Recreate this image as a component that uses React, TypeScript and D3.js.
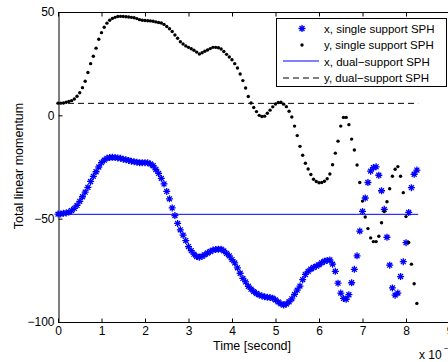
import { useEffect, useRef } from 'react';
import * as d3 from 'd3';

// simulation samples, uniform time step (x-axis shown as "x 10^-3")
const TIME_STEP = 0.0625;

// x-momentum, single support SPH (blue stars)
const X_SINGLE: number[] = [
  -47.8, -47.7, -47.4, -47.2, -46.8, -46.1, -45.0, -43.6, -41.6, -39.4,
  -37.2, -34.9, -32.0, -29.5, -27.3, -25.0, -22.9, -21.7, -20.8, -20.4,
  -20.3, -20.4, -20.6, -20.8, -21.2, -21.5, -21.8, -22.2, -22.4, -22.7,
  -22.9, -22.9, -22.9, -23.0, -23.5, -24.4, -26.2, -28.1, -30.5, -33.2,
  -36.8, -40.4, -44.8, -48.5, -52.3, -55.4, -58.0, -60.6, -63.5, -65.5,
  -67.2, -68.3, -68.7, -68.2, -67.4, -66.6, -65.9, -65.2, -64.9, -64.8,
  -64.8, -65.6, -66.8, -68.0, -69.8, -71.4, -73.8, -76.4, -78.9, -80.6,
  -82.7, -84.1, -85.3, -86.2, -86.9, -87.4, -87.8, -88.0, -88.2, -88.5,
  -89.3, -90.3, -91.2, -91.8, -91.3, -90.2, -88.8, -86.6, -84.6, -82.6,
  -79.5, -77.0, -75.5, -74.4, -73.6, -73.0, -72.3, -71.3, -70.6, -70.2,
  -70.0, -72.0, -75.5, -81.2, -86.0, -88.6, -89.0, -86.8, -81.0, -74.5,
  -68.0, -56.0, -46.5, -40.0, -32.5, -27.0, -25.3, -24.9, -29.0, -36.5,
  -45.5, -59.0, -72.5, -83.5, -87.0, -86.0, -78.0, -70.8, -61.6, -47.0,
  -35.0, -28.5, -26.5,
];

// y-momentum, single support SPH (black dots)
const Y_SINGLE: number[] = [
  5.9, 5.9, 6.0, 6.3, 6.7, 7.1, 7.9, 9.2, 10.9, 13.4,
  16.5, 20.7, 25.0, 28.6, 32.5, 36.8, 40.0, 42.6, 44.6, 46.0,
  46.9, 47.4, 47.8, 47.9, 47.8, 47.7, 47.6, 47.4, 47.2, 46.8,
  46.3, 46.0, 45.9, 45.8, 45.7, 45.5, 45.2, 44.9, 44.7, 44.0,
  43.0, 41.9, 40.6, 38.9, 37.3, 35.6, 34.5, 33.6, 32.9, 32.2,
  31.5, 30.6, 29.7, 30.3, 31.0, 31.6, 32.3, 32.9, 32.9, 32.7,
  32.1, 30.9, 29.5, 28.2, 26.9, 25.0, 22.9, 20.0, 16.8, 13.2,
  9.1, 6.0, 3.8, 1.8, 0.0, -0.6, -0.4, 1.0, 2.5, 4.1,
  5.5, 6.2, 6.3, 5.4, 4.2, 2.0, -0.8, -5.2, -9.8, -15.0,
  -19.3, -23.2, -26.0, -28.6, -30.9, -32.0, -32.6, -32.5, -31.9, -30.7,
  -28.4, -23.9, -18.3, -12.5, -5.2, -1.0, -1.0, -4.5, -11.5, -16.8,
  -24.0, -32.5, -41.5, -49.2, -54.8, -59.3, -61.1, -61.1, -58.5, -52.0,
  -46.5, -41.8, -35.5, -29.5, -26.1, -24.8, -29.5, -37.4, -49.0, -61.5,
  -72.0, -81.5, -91.0,
];

// dual-support SPH reference levels (constant over the run)
const X_DUAL = -47.9;
const Y_DUAL = 5.8;
const DUAL_T_END = 8.28;

const X_TICKS = [0, 1, 2, 3, 4, 5, 6, 7, 8, 9];
const Y_TICKS = [-100, -50, 0, 50];

const LEGEND_LABELS = [
  'x, single support SPH',
  'y, single support SPH',
  'x, dual\u2212support SPH',
  'y, dual\u2212support SPH',
];

const W = 448;
const H = 362;
const FONT = '"Liberation Sans", Arial, Helvetica, sans-serif';

export default function App() {
  const svgRef = useRef<SVGSVGElement>(null);

  useEffect(() => {
    if (!svgRef.current) return;
    const svg = d3.select(svgRef.current);
    svg.selectAll('*').remove();

    const left = 58;
    const top = 12;
    const bottom = 322;

    const x = d3.scaleLinear().domain([0, 9]).range([left, left + 9 * 43.5]);
    const y = d3.scaleLinear().domain([-100, 50]).range([bottom, top]);

    svg.append('rect').attr('width', W).attr('height', H).attr('fill', '#fff');

    // top frame line (right side of the box is off the page)
    svg.append('line').attr('x1', left).attr('x2', W).attr('y1', top + 0.5).attr('y2', top + 0.5)
      .attr('stroke', '#000');

    // axes
    const xAxis = d3.axisBottom(x).tickValues(X_TICKS).tickSizeInner(-4).tickSizeOuter(0)
      .tickPadding(4).tickFormat(d3.format('d'));
    const gx = svg.append('g').attr('transform', `translate(0,${bottom + 0.5})`).call(xAxis);
    gx.select('.domain').attr('d', `M${left},0H${W}`);

    const xTop = d3.axisTop(x).tickValues(X_TICKS).tickSizeInner(-4).tickSizeOuter(0)
      .tickFormat(() => '');
    const gt = svg.append('g').attr('transform', `translate(0,${top + 0.5})`).call(xTop);
    gt.select('.domain').remove();

    const yAxis = d3.axisLeft(y).tickValues(Y_TICKS).tickSizeInner(-4).tickSizeOuter(0)
      .tickPadding(4).tickFormat(d3.format('d'));
    svg.append('g').attr('transform', `translate(${left + 0.5},0)`).call(yAxis);

    svg.selectAll('.tick text').style('font-family', FONT).style('font-size', '12px').attr('fill', '#000');
    svg.selectAll('.domain, .tick line').attr('stroke', '#000');

    // dual-support lines
    svg.append('line')
      .attr('x1', x(0)).attr('x2', x(DUAL_T_END))
      .attr('y1', y(X_DUAL)).attr('y2', y(X_DUAL))
      .attr('stroke', '#0000ff').attr('stroke-width', 1);
    svg.append('line')
      .attr('x1', x(0)).attr('x2', x(DUAL_T_END))
      .attr('y1', y(Y_DUAL)).attr('y2', y(Y_DUAL))
      .attr('stroke', '#000').attr('stroke-width', 1).attr('stroke-dasharray', '6 4');

    const star = (s: number) => {
      const d = s * 0.7;
      return `M${-s},0H${s}M0,${-s}V${s}M${-d},${-d}L${d},${d}M${-d},${d}L${d},${-d}`;
    };

    // x single support (stars)
    svg.append('g').selectAll('path').data(X_SINGLE).enter().append('path')
      .attr('transform', (d, i) => `translate(${x(i * TIME_STEP)},${y(d)})`)
      .attr('d', star(3.5))
      .attr('fill', 'none').attr('stroke', '#0000ff').attr('stroke-width', 1.3);

    // y single support (dots)
    svg.append('g').selectAll('circle').data(Y_SINGLE).enter().append('circle')
      .attr('cx', (d, i) => x(i * TIME_STEP)).attr('cy', (d) => y(d))
      .attr('r', 1.7).attr('fill', '#000');

    // labels
    svg.append('text').attr('x', 252).attr('y', 350).attr('text-anchor', 'middle')
      .style('font-family', FONT).style('font-size', '12.5px').text('Time [second]');
    svg.append('text').attr('transform', 'translate(23,166) rotate(-90)').attr('text-anchor', 'middle')
      .style('font-family', FONT).style('font-size', '12.5px').text('Total linear momentum');
    svg.append('text').attr('x', 419).attr('y', 359)
      .style('font-family', FONT).style('font-size', '12px').text('x 10');
    svg.append('text').attr('x', 444).attr('y', 351)
      .style('font-family', FONT).style('font-size', '8px').text('\u22123');

    // legend
    const lg = svg.append('g').attr('transform', 'translate(276,18)');
    lg.append('rect').attr('x', 0.5).attr('y', 0.5).attr('width', 170).attr('height', 68)
      .attr('fill', '#fff').attr('stroke', '#000');
    const rowY = [10.5, 27, 43.5, 60];
    LEGEND_LABELS.forEach((label, i) => {
      lg.append('text').attr('x', 48).attr('y', rowY[i]).attr('dy', '0.35em')
        .style('font-family', FONT).style('font-size', '11.5px').text(label);
    });
    lg.append('path').attr('transform', `translate(26,${rowY[0]})`).attr('d', star(3.5))
      .attr('fill', 'none').attr('stroke', '#0000ff').attr('stroke-width', 1.3);
    lg.append('circle').attr('cx', 26).attr('cy', rowY[1]).attr('r', 1.7).attr('fill', '#000');
    lg.append('line').attr('x1', 7).attr('x2', 43).attr('y1', 43).attr('y2', 43)
      .attr('stroke', '#0000ff').attr('stroke-width', 1.2);
    lg.append('line').attr('x1', 7).attr('x2', 43).attr('y1', rowY[3]).attr('y2', rowY[3])
      .attr('stroke', '#000').attr('stroke-dasharray', '6 4');
  }, []);

  return (
    <>
      <style>{'body{margin:0}'}</style>
      <svg ref={svgRef} width={W} height={H} style={{ display: 'block' }} />
    </>
  );
}
